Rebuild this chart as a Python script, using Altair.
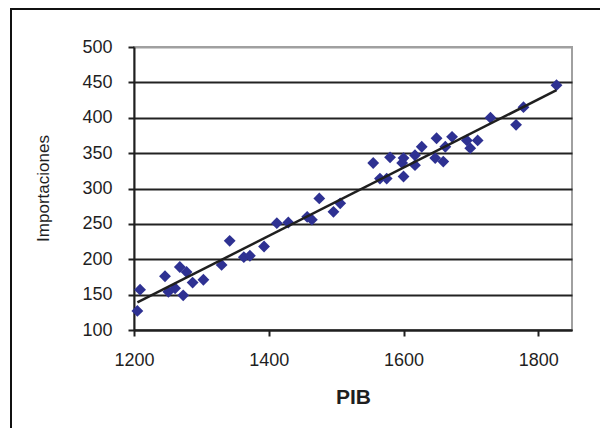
import altair as alt
import pandas as pd

pib = [1205, 1209, 1246, 1251, 1261, 1268, 1278, 1273, 1287, 1303, 1330, 1342,
       1363, 1372, 1393, 1412, 1429, 1457, 1464, 1475, 1496, 1506,
       1555, 1565, 1575, 1580, 1598, 1600, 1600, 1617, 1617, 1627,
       1647, 1649, 1659, 1662, 1672, 1694, 1699, 1710, 1729, 1767, 1778, 1827]
imp = [127, 157, 176, 154, 159, 189, 182, 149, 167, 171, 192, 226,
       203, 205, 218, 251, 252, 260, 256, 286, 267, 279,
       336, 314, 314, 344, 336, 343, 317, 333, 347, 359,
       343, 371, 338, 359, 373, 368, 357, 368, 400, 390, 415, 446]
x_ticks = [1200, 1400, 1600, 1800]
y_ticks = [100, 150, 200, 250, 300, 350, 400, 450, 500]

df = pd.DataFrame({"pib": pib, "imp": imp})

W, H = 438, 283
PAD = {"left": 126, "top": 39, "right": 28, "bottom": 98}
INK = "#1f1f1f"
FONT = "Liberation Sans"

xscale = alt.Scale(domain=[1200, 1850], nice=False, zero=False)
yscale = alt.Scale(domain=[100, 500], nice=False, zero=False)

xaxis = alt.Axis(values=x_ticks, grid=False, title="PIB",
                 format="d", labelOverlap=False, labelFlush=False,
                 labelFontSize=18, labelPadding=15, tickSize=6, tickWidth=2,
                 titleFontSize=21, titleFontWeight="bold",
                 titleY=73, titleBaseline="alphabetic")
yaxis = alt.Axis(values=y_ticks, grid=True,
                 format="d", labelOverlap=False, labelFlush=False,
                 gridColor={"condition": {"test": "datum.value >= 500", "value": "#a0a0a0"},
                            "value": "#222222"},
                 gridWidth=2, title="Importaciones",
                 labelFontSize=18, labelPadding=16, tickSize=6, tickWidth=2,
                 titleFontSize=17, titleFontWeight="normal",
                 titleAngle=270, titleX=-91, titleY=141,
                 titleAlign="center", titleBaseline="middle")

points = alt.Chart(df).mark_point(shape="diamond", filled=True, size=140,
                                  color="#2e3192", opacity=1, strokeWidth=0).encode(
    x=alt.X("pib:Q", scale=xscale, axis=xaxis),
    y=alt.Y("imp:Q", scale=yscale, axis=yaxis),
)

trend = alt.Chart(df).transform_regression("pib", "imp").mark_line(
    color=INK, strokeWidth=2.5).encode(
    x=alt.X("pib:Q", scale=xscale, axis=xaxis),
    y=alt.Y("imp:Q", scale=yscale, axis=yaxis),
)

blank = alt.Data(values=[{"k": 1}])
top_border = alt.Chart(blank).mark_rule(color="#111111", strokeWidth=2).encode(
    x=alt.value(-124), x2=alt.value(W + PAD["right"]), y=alt.value(-38))
left_border = alt.Chart(blank).mark_rule(color="#111111", strokeWidth=2).encode(
    x=alt.value(-123), y=alt.value(-39), y2=alt.value(H + PAD["bottom"]))

chart = alt.layer(points, trend, top_border, left_border).properties(
    width=W, height=H,
    autosize=alt.AutoSizeParams(type="none"),
    padding=PAD,
    background="white",
).configure_view(
    stroke="#a0a0a0", strokeWidth=2
).configure_axis(
    labelFont=FONT, titleFont=FONT, labelColor=INK, titleColor=INK,
    domainColor=INK, domainWidth=2, tickColor=INK,
)

chart.save("out.html", embed_options={"renderer": "svg", "actions": False})
